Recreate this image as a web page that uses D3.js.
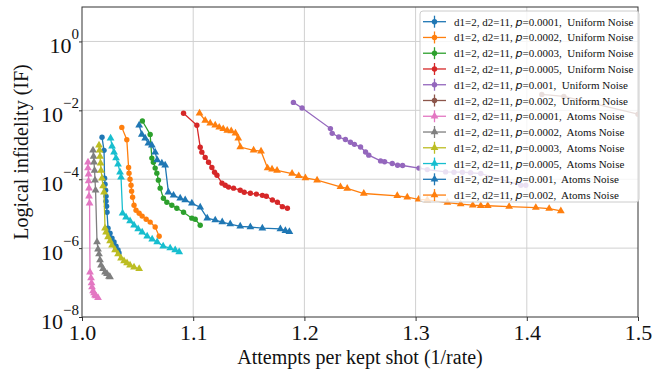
<!DOCTYPE html>
<html>
<head>
<meta charset="utf-8">
<script src="https://cdn.jsdelivr.net/npm/d3@7"></script>
<style>
body { margin: 0; background: #fff; }
text { font-family: "Liberation Serif", "Times New Roman", serif; fill: #111; }
</style>
</head>
<body>
<svg id="chart" width="652" height="377"></svg>
<script>
// values: [attempts per kept shot, logical infidelity]
var uniformP0001 = [[1.0180,1.65e-3],[1.0198,6.9e-4],[1.0203,1.07e-4],[1.0207,7.2e-5],[1.0212,4.8e-5],[1.0216,3.2e-5],[1.0216,2.3e-5],[1.0221,1.65e-5],[1.0225,1.1e-5],[1.0234,3.8e-6],[1.0252,2.7e-6],[1.0270,1.95e-6],[1.0288,1.5e-6],[1.0306,1.14e-6],[1.0324,8.8e-7],[1.0333,7.2e-7]];
var uniformP0002 = [[1.0358,3.2e-3],[1.0403,1.4e-3],[1.0419,2.2e-4],[1.0423,1.5e-4],[1.0432,1.0e-4],[1.0441,6.7e-5],[1.0446,4.5e-5],[1.0455,3.0e-5],[1.0468,1.76e-5],[1.0486,1.26e-5],[1.0514,1.03e-5],[1.0541,8.5e-6],[1.0577,6.9e-6],[1.0613,5.7e-6],[1.0658,4.1e-6],[1.0694,2.2e-6]];
var uniformP0003 = [[1.0543,4.9e-3],[1.0613,2.0e-3],[1.0628,4.1e-4],[1.0642,3.1e-4],[1.0658,2.1e-4],[1.0673,1.5e-4],[1.0687,9.4e-5],[1.0703,5.5e-5],[1.0732,2.8e-5],[1.0763,2.15e-5],[1.0808,1.76e-5],[1.0853,1.44e-5],[1.0913,1.1e-5],[1.0988,7.4e-6],[1.1018,6.9e-6],[1.1063,4.6e-6]];
var uniformP0005 = [[1.0913,8.2e-3],[1.1033,3.7e-3],[1.1063,8.5e-4],[1.1078,6.1e-4],[1.1108,4.3e-4],[1.1138,3.1e-4],[1.1168,2.2e-4],[1.1192,1.6e-4],[1.1214,1.3e-4],[1.1259,7.7e-5],[1.1288,6.7e-5],[1.1318,5.9e-5],[1.1363,5.5e-5],[1.1423,4.8e-5],[1.1459,4.2e-5],[1.1514,3.9e-5],[1.1568,3.7e-5],[1.1622,3.4e-5],[1.1658,3.2e-5],[1.1712,2.5e-5],[1.1757,2.15e-5],[1.1802,1.6e-5],[1.1847,1.44e-5]];
var uniformP001 = [[1.1901,1.7e-2],[1.1979,1.17e-2],[1.2234,2.95e-3],[1.2250,2.15e-3],[1.2309,1.68e-3],[1.2369,1.42e-3],[1.2414,1.18e-3],[1.2450,1.03e-3],[1.2505,8.6e-4],[1.2550,6.2e-4],[1.2579,5.0e-4],[1.2685,3.4e-4],[1.2721,3.2e-4],[1.2790,2.85e-4],[1.2838,2.55e-4],[1.2883,2.5e-4],[1.3030,2.1e-4],[1.3105,1.9e-4],[1.3270,1.63e-4],[1.3345,1.6e-4],[1.3421,1.6e-4],[1.3495,1.54e-4],[1.3586,1.46e-4],[1.3946,6.7e-5],[1.3991,6.7e-5]];
var uniformP002 = [[1.4135,2.9e-2],[1.4333,2.55e-2],[1.5000,7.7e-3]];
var atomsP0001 = [[1.0054,3.1e-4],[1.0054,2.1e-4],[1.0059,1.4e-4],[1.0059,8.8e-5],[1.0063,5.5e-5],[1.0063,3.2e-5],[1.0068,2.0e-5],[1.0072,2.0e-7],[1.0081,1.35e-7],[1.0086,9.7e-8],[1.0090,7.4e-8],[1.0099,5.7e-8],[1.0108,5.0e-8],[1.0117,4.3e-8],[1.0126,4.1e-8],[1.0144,3.6e-8]];
var atomsP0002 = [[1.0099,6.9e-4],[1.0104,4.6e-4],[1.0108,3.1e-4],[1.0113,1.8e-4],[1.0117,9.4e-5],[1.0122,4.8e-5],[1.0135,1.5e-6],[1.0144,9.3e-7],[1.0153,6.7e-7],[1.0162,4.5e-7],[1.0171,3.2e-7],[1.0189,2.5e-7],[1.0207,2.0e-7],[1.0225,1.8e-7],[1.0243,1.5e-7],[1.0252,1.45e-7]];
var atomsP0003 = [[1.0153,9.7e-4],[1.0158,6.9e-4],[1.0162,4.6e-4],[1.0167,2.9e-4],[1.0171,1.8e-4],[1.0180,1.07e-4],[1.0189,6.3e-5],[1.0198,4.2e-5],[1.0207,3.8e-6],[1.0216,2.9e-6],[1.0234,2.1e-6],[1.0252,1.6e-6],[1.0270,1.2e-6],[1.0297,8.8e-7],[1.0324,6.7e-7],[1.0351,5.1e-7],[1.0378,4.2e-7],[1.0405,3.7e-7],[1.0432,3.2e-7],[1.0468,2.8e-7],[1.0514,2.5e-7]];
var atomsP0005 = [[1.0257,1.54e-3],[1.0270,9.1e-4],[1.0288,6.1e-4],[1.0306,4.1e-4],[1.0324,2.7e-4],[1.0342,1.6e-4],[1.0351,1.14e-4],[1.0365,1.03e-5],[1.0396,7.9e-6],[1.0432,6.1e-6],[1.0468,4.6e-6],[1.0505,3.6e-6],[1.0541,2.9e-6],[1.0586,2.2e-6],[1.0631,1.8e-6],[1.0676,1.5e-6],[1.0730,1.14e-6],[1.0793,1.0e-6],[1.0838,8.8e-7],[1.0874,7.7e-7]];
var atomsP001 = [[1.0514,3.7e-3],[1.0538,2.0e-3],[1.0568,1.54e-3],[1.0597,1.1e-3],[1.0628,9.7e-4],[1.0658,6.1e-4],[1.0676,3.6e-4],[1.0718,2.9e-4],[1.0748,2.55e-4],[1.0777,4.2e-5],[1.0823,3.4e-5],[1.0883,2.8e-5],[1.0928,2.5e-5],[1.0988,2.0e-5],[1.1063,1.54e-5],[1.1126,7.4e-6],[1.1198,6.5e-6],[1.1261,5.7e-6],[1.1333,5.0e-6],[1.1423,4.3e-6],[1.1514,4.1e-6],[1.1622,3.8e-6],[1.1784,3.6e-6],[1.1829,3.2e-6],[1.1865,3.0e-6]];
var atomsP002 = [[1.1057,8.2e-3],[1.1108,5.1e-3],[1.1153,4.2e-3],[1.1198,3.7e-3],[1.1234,3.2e-3],[1.1270,2.9e-3],[1.1306,2.6e-3],[1.1342,2.5e-3],[1.1380,2.15e-3],[1.1405,1.54e-3],[1.1423,8.6e-4],[1.1543,6.9e-4],[1.1610,6.5e-4],[1.1669,2.1e-4],[1.1709,1.95e-4],[1.1754,1.8e-4],[1.1889,1.46e-4],[1.1949,1.25e-4],[1.2009,1.09e-4],[1.2114,9.4e-5],[1.2324,6.0e-5],[1.2385,5.4e-5],[1.2534,3.85e-5],[1.2835,3.3e-5],[1.2925,3.0e-5],[1.3027,2.6e-5],[1.3105,2.5e-5],[1.3286,2.1e-5],[1.3405,1.9e-5],[1.3514,1.76e-5],[1.3586,1.7e-5],[1.3649,1.7e-5],[1.3841,1.6e-5],[1.4081,1.5e-5],[1.4201,1.4e-5],[1.4306,1.2e-5]];

var pValues = ["0.0001", "0.0002", "0.0003", "0.0005", "0.001", "0.002"];
var noiseTypes = ["Uniform Noise", "Atoms Noise"];
var xTicks = [1.0, 1.1, 1.2, 1.3, 1.4, 1.5];
var yTickExps = [0, -2, -4, -6, -8];

var seriesData = [uniformP0001, uniformP0002, uniformP0003, uniformP0005, uniformP001, uniformP002,
                  atomsP0001, atomsP0002, atomsP0003, atomsP0005, atomsP001, atomsP002];

var series = seriesData.map(function(pts, i) {
    return {
        pts: pts,
        p: pValues[i % 6],
        noise: noiseTypes[Math.floor(i / 6)],
        marker: i < 6 ? "circle" : "triangle",
        color: d3.schemeCategory10[i % 10]
    };
});

var svg = d3.select("#chart");
var pL = 82, pR = 638, pT = 7, pB = 317;

var x = d3.scaleLinear().domain([1.0, 1.5]).range([pL, pR]);
var y = d3.scaleLog().domain([1e-8, 10]).range([pB, pT]);

svg.append("defs").append("clipPath")
    .attr("id", "plotclip")
    .append("rect")
    .attr("x", pL).attr("y", pT)
    .attr("width", pR - pL).attr("height", pB - pT);

// grid
var grid = svg.append("g").attr("class", "grid");
grid.selectAll("line.gx")
    .data(xTicks.slice(1, -1))
    .enter().append("line")
    .attr("x1", x).attr("x2", x)
    .attr("y1", pT).attr("y2", pB)
    .attr("stroke", "#d0d0d0").attr("stroke-width", 1);
grid.selectAll("line.gy")
    .data(yTickExps.slice(0, -1))
    .enter().append("line")
    .attr("x1", pL).attr("x2", pR)
    .attr("y1", function(e) { return y(Math.pow(10, e)); })
    .attr("y2", function(e) { return y(Math.pow(10, e)); })
    .attr("stroke", "#d0d0d0").attr("stroke-width", 1);

// x axis
var xAxis = svg.append("g")
    .attr("transform", "translate(0," + pB + ")")
    .call(d3.axisBottom(x).tickValues(xTicks).tickFormat(d3.format(".1f")).tickSize(4).tickPadding(3));
xAxis.select(".domain").remove();
xAxis.selectAll(".tick line").attr("stroke", "#333");
xAxis.selectAll("text")
    .style("font-family", "Liberation Serif")
    .style("font-size", "22px")
    .attr("fill", "#111");

// y axis, labels built as 10 with superscript
var yAxis = svg.append("g")
    .attr("transform", "translate(" + pL + ",0)")
    .call(d3.axisLeft(y).tickValues(yTickExps.map(function(e) { return Math.pow(10, e); })).tickFormat("").tickSize(3));
yAxis.select(".domain").remove();
yAxis.selectAll(".tick line").attr("stroke", "#333");

var yLab = svg.append("g").selectAll("text")
    .data(yTickExps)
    .enter().append("text")
    .attr("x", pL - 3)
    .attr("y", function(e) { return y(Math.pow(10, e)) + 11.5; })
    .attr("text-anchor", "end")
    .style("font-size", "22px");
yLab.append("tspan").text("10");
yLab.append("tspan")
    .attr("dy", -14)
    .style("font-size", "15px")
    .text(function(e) { return e === 0 ? "0" : "\u2212" + Math.abs(e); });

// frame
svg.append("rect")
    .attr("x", pL).attr("y", pT)
    .attr("width", pR - pL).attr("height", pB - pT)
    .attr("fill", "none").attr("stroke", "#333").attr("stroke-width", 1);

// series
var line = d3.line()
    .x(function(d) { return x(d[0]); })
    .y(function(d) { return y(d[1]); });

var plot = svg.append("g").attr("clip-path", "url(#plotclip)");

function marker(sel, s) {
    if (s.marker === "circle") {
        sel.append("circle").attr("r", 2.7).attr("fill", s.color);
    } else {
        sel.append("path").attr("d", d3.symbol(d3.symbolTriangle, 26)()).attr("fill", s.color);
    }
}

series.forEach(function(s) {
    var g = plot.append("g");
    g.append("path")
        .datum(s.pts)
        .attr("d", line)
        .attr("fill", "none")
        .attr("stroke", s.color)
        .attr("stroke-width", 1.3);
    g.selectAll("g.pt")
        .data(s.pts)
        .enter().append("g")
        .attr("transform", function(d) { return "translate(" + x(d[0]) + "," + y(d[1]) + ")"; })
        .each(function() { marker(d3.select(this), s); });
});

// axis titles
svg.append("text")
    .attr("x", (pL + pR) / 2)
    .attr("y", 364)
    .attr("text-anchor", "middle")
    .style("font-size", "20px")
    .text("Attempts per kept shot (1/rate)");

svg.append("text")
    .attr("transform", "translate(28," + ((pT + pB) / 2 - 10) + ") rotate(-90)")
    .attr("text-anchor", "middle")
    .style("font-size", "20px")
    .text("Logical infidelity (IF)");

// legend
var lg = svg.append("g");
lg.append("rect")
    .attr("x", 420).attr("y", 11)
    .attr("width", 219).attr("height", 191)
    .attr("rx", 3)
    .attr("fill", "#fff").attr("fill-opacity", 0.8)
    .attr("stroke", "#ccc");

var rows = lg.selectAll("g.row")
    .data(series)
    .enter().append("g")
    .attr("transform", function(d, i) { return "translate(0," + (21.7 + i * 15.76) + ")"; });

rows.each(function(s) {
    var r = d3.select(this);
    r.append("line").attr("x1", 423).attr("x2", 446).attr("y1", 0).attr("y2", 0)
        .attr("stroke", s.color).attr("stroke-width", 1.3);
    r.append("line").attr("x1", 434.5).attr("x2", 434.5).attr("y1", -6).attr("y2", 6)
        .attr("stroke", s.color).attr("stroke-width", 1.3);
    var m = r.append("g").attr("transform", "translate(434.5,0)");
    marker(m, s);
    var t = r.append("text")
        .attr("x", 454).attr("y", 4)
        .style("font-size", "11px")
        .style("white-space", "pre");
    t.append("tspan").text("d1=2, d2=11, ");
    t.append("tspan").style("font-family", "DejaVu Sans").style("font-style", "italic").text("p");
    t.append("tspan").text("=" + s.p + ",  " + s.noise);
});
</script>
</body>
</html>
